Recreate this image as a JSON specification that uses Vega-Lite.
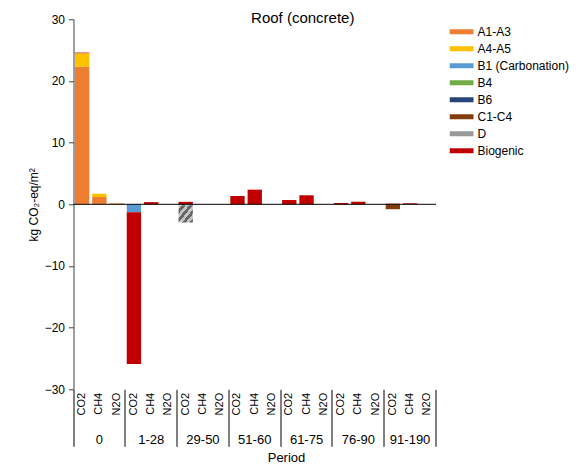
{
  "$schema": "https://vega.github.io/schema/vega-lite/v6.json",
  "width": 362.5,
  "height": 370,
  "autosize": {"type": "none"},
  "padding": {"left": 73.5, "top": 19.3, "right": 152, "bottom": 76.7},
  "background": "#ffffff",
  "config": {
    "font": "Liberation Sans",
    "view": {"stroke": null},
    "axis": {"labelColor": "#000000", "titleColor": "#000000", "titleFontWeight": "normal", "grid": false}
  },
  "title": {"text": "Roof (concrete)", "fontSize": 15, "fontWeight": "normal", "color": "#000000", "anchor": "middle", "dx": 48, "offset": -13},
  "data": {
    "values": [
      {"period": "0", "gas": "CO2", "component": "A1-A3", "value": 22.3},
      {"period": "0", "gas": "CO2", "component": "A4-A5", "value": 2.2},
      {"period": "0", "gas": "CO2", "component": "Biogenic", "value": 0.1},
      {"period": "0", "gas": "CH4", "component": "A1-A3", "value": 1.2},
      {"period": "0", "gas": "CH4", "component": "A4-A5", "value": 0.5},
      {"period": "0", "gas": "N2O", "component": "A1-A3", "value": 0.15},
      {"period": "1-28", "gas": "CO2", "component": "B1 (Carbonation)", "value": -1.3},
      {"period": "1-28", "gas": "CO2", "component": "Biogenic", "value": -24.6},
      {"period": "1-28", "gas": "CH4", "component": "Biogenic", "value": 0.35},
      {"period": "29-50", "gas": "CO2", "component": "Biogenic", "value": 0.4},
      {"period": "29-50", "gas": "CO2", "component": "B1 (Carbonation)", "value": -0.15},
      {"period": "29-50", "gas": "CO2", "component": "D", "value": -2.8},
      {"period": "51-60", "gas": "CO2", "component": "Biogenic", "value": 1.35},
      {"period": "51-60", "gas": "CH4", "component": "Biogenic", "value": 2.37},
      {"period": "61-75", "gas": "CO2", "component": "Biogenic", "value": 0.7},
      {"period": "61-75", "gas": "CH4", "component": "Biogenic", "value": 1.46},
      {"period": "76-90", "gas": "CO2", "component": "Biogenic", "value": 0.21},
      {"period": "76-90", "gas": "CH4", "component": "Biogenic", "value": 0.42},
      {"period": "91-190", "gas": "CO2", "component": "Biogenic", "value": 0.1},
      {"period": "91-190", "gas": "CO2", "component": "C1-C4", "value": -0.8},
      {"period": "91-190", "gas": "CH4", "component": "Biogenic", "value": 0.16}
    ]
  },
  "transform": [
    {"calculate": "datum.period + '|' + datum.gas", "as": "key"},
    {"calculate": "indexof(['A1-A3','A4-A5','B1 (Carbonation)','B4','B6','C1-C4','D','Biogenic'], datum.component)", "as": "ord"}
  ],
  "resolve": {"axis": {"x": "independent"}},
  "layer": [
    {
      "mark": {"type": "bar", "width": {"band": 0.83}},
      "encoding": {
        "x": {
          "field": "key", "type": "nominal",
          "scale": {"domain": ["0|CO2","0|CH4","0|N2O","1-28|CO2","1-28|CH4","1-28|N2O","29-50|CO2","29-50|CH4","29-50|N2O","51-60|CO2","51-60|CH4","51-60|N2O","61-75|CO2","61-75|CH4","61-75|N2O","76-90|CO2","76-90|CH4","76-90|N2O","91-190|CO2","91-190|CH4","91-190|N2O"], "paddingInner": 0, "paddingOuter": 0},
          "axis": {"orient": "bottom", "title": null, "domain": false, "ticks": false, "labelAngle": -90, "labelPadding": 3, "labelFontSize": 11, "labelExpr": "split(datum.value, '|')[1]"}
        },
        "y": {
          "field": "value", "type": "quantitative", "stack": "zero",
          "scale": {"domain": [-30, 30], "nice": false, "zero": true},
          "axis": {"values": [-30, -20, -10, 0, 10, 20, 30], "tickSize": 5, "labelPadding": 4, "labelFontSize": 12, "domainColor": "#404040", "tickColor": "#404040", "title": "kg CO₂-eq/m²", "titleFontSize": 12, "titlePadding": 4}
        },
        "color": {
          "field": "component", "type": "nominal",
          "scale": {
            "domain": ["A1-A3","A4-A5","B1 (Carbonation)","B4","B6","C1-C4","D","Biogenic"],
            "range": ["#ED7D31","#FFC000","#5B9BD5","#70AD47","#264478","#843C0C","#999999","#C00000"]
          },
          "condition": {
            "test": "datum.component === 'D'",
            "value": {
              "gradient": "linear", "x1": 0, "y1": 0, "x2": 1, "y2": 1,
              "stops": [
                {"offset": 0, "color": "#c4c4c4"}, {"offset": 0.125, "color": "#c4c4c4"}, {"offset": 0.125, "color": "#666666"}, {"offset": 0.25, "color": "#666666"},
                {"offset": 0.25, "color": "#c4c4c4"}, {"offset": 0.375, "color": "#c4c4c4"}, {"offset": 0.375, "color": "#666666"}, {"offset": 0.5, "color": "#666666"},
                {"offset": 0.5, "color": "#c4c4c4"}, {"offset": 0.625, "color": "#c4c4c4"}, {"offset": 0.625, "color": "#666666"}, {"offset": 0.75, "color": "#666666"},
                {"offset": 0.75, "color": "#c4c4c4"}, {"offset": 0.875, "color": "#c4c4c4"}, {"offset": 0.875, "color": "#666666"}, {"offset": 1, "color": "#666666"}
              ]
            }
          },
          "legend": {
            "orient": "none", "legendX": 376, "legendY": 4, "title": null, "padding": 0,
            "symbolType": "M-1,-0.2H1V0.2H-1Z", "symbolSize": 576, "symbolStrokeWidth": 0, "symbolOpacity": 1,
            "labelFontSize": 12, "labelColor": "#000000", "labelOffset": 4, "rowPadding": 0, "clipHeight": 16.9
          }
        },
        "order": {"field": "ord", "type": "quantitative"}
      }
    },
    {
      "data": {"values": [{}]},
      "mark": {"type": "rule", "color": "#000000", "strokeWidth": 1},
      "encoding": {"y": {"datum": 0, "type": "quantitative"}}
    },
    {
      "mark": {"type": "point", "opacity": 0},
      "encoding": {
        "x": {
          "field": "key", "type": "nominal",
          "scale": {"domain": ["0|CO2","0|CH4","0|N2O","1-28|CO2","1-28|CH4","1-28|N2O","29-50|CO2","29-50|CH4","29-50|N2O","51-60|CO2","51-60|CH4","51-60|N2O","61-75|CO2","61-75|CH4","61-75|N2O","76-90|CO2","76-90|CH4","76-90|N2O","91-190|CO2","91-190|CH4","91-190|N2O"], "paddingInner": 0, "paddingOuter": 0},
          "axis": {
            "orient": "bottom", "values": ["0|CO2","1-28|CO2","29-50|CO2","51-60|CO2","61-75|CO2","76-90|CO2","91-190|CO2"],
            "bandPosition": 0, "domain": false, "tickSize": 57, "tickColor": "#000000", "tickWidth": 1,
            "labelExpr": "split(datum.value, '|')[0]", "labelAngle": 0, "labelAlign": "center", "labelBaseline": "top",
            "labelOffset": 17.26, "labelPadding": -13, "labelFontSize": 13,
            "title": "Period", "titleFontSize": 13, "titleX": 212.5, "titleY": 68, "titleBaseline": "middle", "titleAlign": "center"
          }
        }
      }
    },
    {
      "mark": {"type": "point", "opacity": 0},
      "encoding": {
        "x": {
          "field": "key", "type": "nominal",
          "scale": {"domain": ["0|CO2","0|CH4","0|N2O","1-28|CO2","1-28|CH4","1-28|N2O","29-50|CO2","29-50|CH4","29-50|N2O","51-60|CO2","51-60|CH4","51-60|N2O","61-75|CO2","61-75|CH4","61-75|N2O","76-90|CO2","76-90|CH4","76-90|N2O","91-190|CO2","91-190|CH4","91-190|N2O"], "paddingInner": 0, "paddingOuter": 0},
          "axis": {"orient": "bottom", "values": ["91-190|N2O"], "bandPosition": 1, "domain": false, "tickSize": 57, "tickColor": "#000000", "tickWidth": 1, "labels": false, "title": null}
        }
      }
    }
  ]
}
